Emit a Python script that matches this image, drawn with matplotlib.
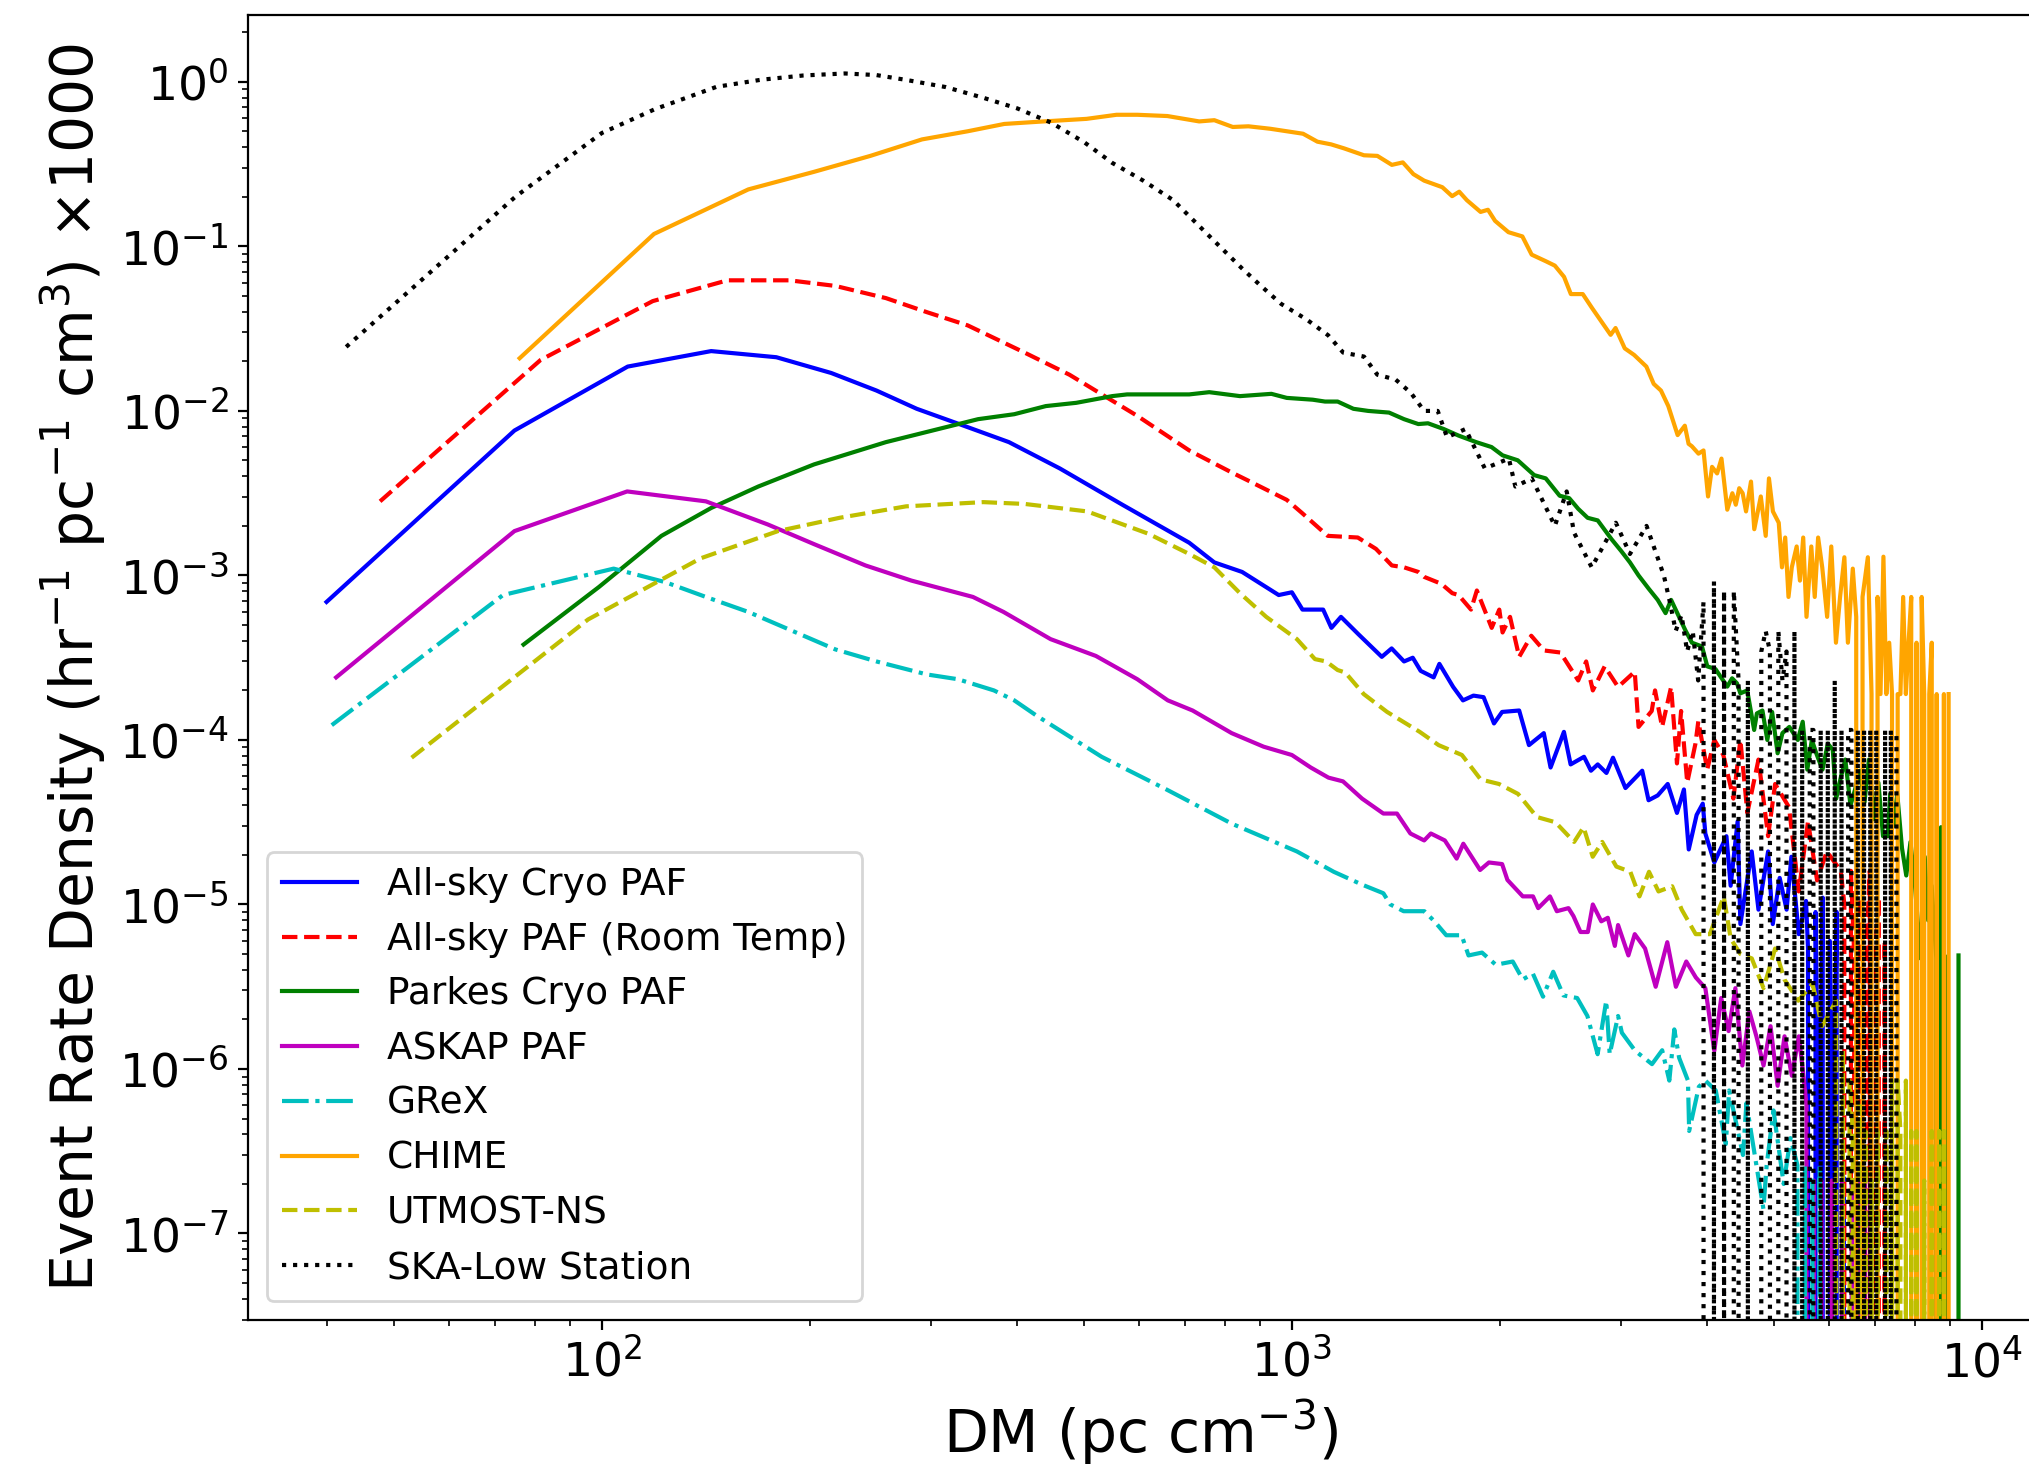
import numpy as np
import matplotlib
matplotlib.use("Agg")
import matplotlib.pyplot as plt

# (DM [pc cm^-3], event rate density x1000) along the smooth part of each curve.
# Tails are sampled on a 70 pc cm^-3 grid; zero bins drop off the log axis.
TAIL_STEP = 70

allsky_cryo = [
    (39.9, 6.9e-4), (74.7, 7.6e-3), (109, 0.0186), (144, 0.0231), (179, 0.0212),
    (215, 0.017), (250, 0.0133), (286, 0.0103), (330, 8.3e-3), (389, 6.46e-3),
    (461, 4.47e-3), (568, 2.69e-3), (710, 1.58e-3), (772, 1.2e-3), (847, 1.05e-3),
    (957, 7.6e-4), (1000, 7.9e-4), (1036, 6.2e-4), (1110, 6.2e-4), (1141, 4.8e-4),
    (1178, 5.6e-4), (1248, 4.4e-4), (1350, 3.2e-4), (1395, 3.6e-4), (1454, 3.0e-4),
    (1497, 3.16e-4), (1537, 2.63e-4), (1605, 2.4e-4), (1636, 2.9e-4), (1713, 2.1e-4),
    (1770, 1.74e-4), (1833, 1.86e-4), (1896, 1.82e-4), (1963, 1.26e-4), (2017, 1.48e-4),
    (2135, 1.51e-4), (2206, 9.3e-5), (2318, 1.1e-4), (2371, 6.8e-5), (2479, 1.12e-4),
    (2535, 7.1e-5), (2651, 7.9e-5), (2713, 6.5e-5), (2775, 7.1e-5), (2857, 6.3e-5),
    (2920, 7.8e-5), (3044, 5.1e-5), (3219, 6.5e-5), (3288, 4.3e-5), (3390, 4.6e-5),
    (3505, 5.4e-5), (3615, 3.6e-5), (3700, 5.0e-5), (3760, 2.16e-5), (3860, 3.5e-5),
    (3940, 4.1e-5), (3974, 2.7e-5), (4095, 1.8e-5), (4264, 2.6e-5), (4324, 1.3e-5),
    (4426, 3.2e-5), (4467, 7.6e-6), (4639, 2.1e-5), (4745, 9.3e-6), (4900, 2.1e-5),
    (4977, 7.6e-6), (5093, 1.45e-5), (5212, 9.3e-6), (5296, 1.95e-5), (5428, 6.6e-6),
    (5561, 1.05e-5), (5598, 5.4e-6),
]
allsky_cryo_tail_start = 5670
allsky_cryo_tail = [0, 9e-6, 2.2e-7, 1.1e-5, 0, 6e-6, 2.2e-7, 9e-6, 0, 2.2e-7, 0]

allsky_room = [
    (47.7, 2.82e-3), (81.5, 0.0204), (118.5, 0.0465), (152, 0.0622), (187, 0.0622),
    (218, 0.0575), (258, 0.0485), (296, 0.0398), (339, 0.0331), (410, 0.0226),
    (476, 0.0166), (597, 9.33e-3), (710, 5.75e-3), (814, 4.27e-3), (870, 3.72e-3),
    (983, 2.88e-3), (1034, 2.4e-3), (1127, 1.74e-3), (1246, 1.70e-3), (1324, 1.45e-3),
    (1396, 1.15e-3), (1454, 1.12e-3), (1525, 1.05e-3), (1555, 9.8e-4), (1646, 8.9e-4),
    (1708, 7.8e-4), (1744, 7.6e-4), (1818, 6.2e-4), (1854, 8.1e-4), (1948, 4.8e-4),
    (1998, 6.2e-4), (2020, 4.5e-4), (2071, 5.6e-4), (2135, 3.2e-4), (2223, 4.3e-4),
    (2319, 3.5e-4), (2450, 3.4e-4), (2600, 2.3e-4), (2670, 3.0e-4), (2730, 2.0e-4),
    (2840, 2.8e-4), (2970, 2.1e-4), (3140, 2.6e-4), (3180, 1.2e-4), (3323, 1.5e-4),
    (3360, 2.0e-4), (3440, 1.2e-4), (3545, 2.1e-4), (3615, 7.2e-5), (3665, 1.5e-4),
    (3741, 5.5e-5), (3845, 9.5e-5), (3882, 1.3e-4), (3999, 6.6e-5), (4095, 1.0e-4),
    (4220, 8.1e-5), (4364, 4.4e-5), (4467, 1.0e-4), (4572, 3.6e-5), (4745, 7.6e-5),
    (4900, 2.6e-5), (5016, 5.4e-5), (5254, 3.9e-5), (5428, 1.2e-5), (5598, 3.2e-5),
    (5770, 1.4e-5), (5960, 2.1e-5), (6245, 1.6e-5),
]
allsky_room_tail_start = 6320
allsky_room_tail = [1.0e-5, 0, 1.6e-5, 5e-6, 0, 1.1e-5, 0, 6e-6, 1.6e-5, 0,
                    6e-6, 1.1e-5, 0, 6e-6, 0]

parkes_cryo = [
    (77, 3.8e-4), (99, 8.5e-4), (122, 1.74e-3), (144, 2.57e-3), (168.5, 3.47e-3),
    (203, 4.73e-3), (258, 6.46e-3), (301, 7.59e-3), (351, 8.91e-3), (396, 9.55e-3),
    (440, 0.0107), (487, 0.0112), (549, 0.0123), (577, 0.0126), (640, 0.0126),
    (710, 0.0126), (759, 0.0130), (841, 0.0123), (934, 0.0127), (983, 0.0120),
    (1072, 0.0117), (1117, 0.0114), (1165, 0.0114), (1228, 0.0103), (1290, 0.0100),
    (1383, 0.00977), (1454, 0.00891), (1525, 0.00832), (1575, 0.00841), (1660, 0.00776),
    (1744, 0.00708), (1850, 0.00646), (1947, 0.00603), (2020, 0.00537), (2125, 0.00501),
    (2245, 0.00407), (2333, 0.00389), (2444, 0.00305), (2523, 0.00295), (2600, 0.00254),
    (2683, 0.00224), (2775, 0.00216), (2906, 0.00166), (3000, 0.00141), (3090, 0.0012),
    (3180, 0.001), (3290, 8.3e-4), (3390, 7.1e-4), (3480, 5.9e-4), (3545, 7.1e-4),
    (3715, 4.67e-4), (3800, 3.9e-4), (3930, 3.7e-4), (4000, 2.8e-4), (4110, 2.7e-4),
    (4276, 2.11e-4), (4345, 2.37e-4), (4416, 2.21e-4), (4467, 1.92e-4), (4570, 2.0e-4),
    (4677, 1.15e-4), (4720, 1.45e-4), (4808, 1.51e-4), (4887, 1.0e-4), (4966, 1.48e-4),
    (5058, 8.3e-5), (5140, 1.1e-4), (5260, 1.2e-4), (5410, 1.0e-4), (5500, 1.29e-4),
    (5585, 6.6e-5), (5670, 1.0e-4), (5754, 8.3e-5), (5875, 6.6e-5), (5980, 9.5e-5),
    (6080, 8.7e-5), (6150, 4.4e-5), (6250, 6.0e-5), (6340, 7.6e-5), (6450, 4.0e-5),
    (6550, 5.0e-5), (6650, 6.5e-5), (6760, 4.2e-5), (6860, 7.6e-5), (6970, 3.3e-5),
    (7080, 5.5e-5), (7190, 2.6e-5), (7305, 2.6e-5), (7365, 4.7e-5), (7450, 3.0e-5),
    (7540, 4.7e-5), (7660, 2.2e-5), (7770, 1.5e-5), (7880, 2.4e-5), (8000, 1.3e-5),
    (8150, 4.7e-6), (8265, 1.95e-5), (8360, 8e-6), (8455, 1.3e-5), (8590, 4.7e-6),
    (8660, 0), (8725, 2.95e-5), (8790, 0), (8830, 4.9e-6), (8900, 0), (9220, 0),
    (9250, 4.9e-6),
]

askap = [
    (41.2, 2.4e-4), (74.7, 1.86e-3), (108.8, 3.24e-3), (141.5, 2.82e-3), (174, 2.04e-3),
    (203, 1.55e-3), (241, 1.15e-3), (281, 9.3e-4), (345, 7.4e-4), (382, 6.0e-4),
    (447, 4.1e-4), (520, 3.24e-4), (597, 2.34e-4), (661, 1.74e-4), (718, 1.51e-4),
    (818, 1.1e-4), (910, 9.1e-5), (1000, 8.1e-5), (1065, 6.8e-5), (1130, 5.9e-5),
    (1186, 5.6e-5), (1264, 4.4e-5), (1357, 3.57e-5), (1420, 3.57e-5), (1485, 2.7e-5),
    (1555, 2.45e-5), (1590, 2.7e-5), (1666, 2.45e-5), (1733, 1.9e-5), (1772, 2.34e-5),
    (1874, 1.62e-5), (1930, 1.8e-5), (2017, 1.76e-5), (2053, 1.41e-5), (2161, 1.12e-5),
    (2236, 1.12e-5), (2275, 9.5e-6), (2366, 1.12e-5), (2421, 9.1e-6), (2517, 9.5e-6),
    (2559, 8.5e-6), (2620, 6.8e-6), (2685, 6.8e-6), (2730, 1.0e-5), (2808, 7.9e-6),
    (2870, 8.3e-6), (2938, 5.6e-6), (2970, 7.5e-6), (3074, 4.9e-6), (3140, 6.6e-6),
    (3250, 5.4e-6), (3367, 3.16e-6), (3500, 5.9e-6), (3602, 3.16e-6), (3729, 4.5e-6),
    (3850, 3.6e-6), (3974, 3.1e-6), (4095, 1.29e-6), (4190, 2.7e-6), (4295, 1.7e-6),
    (4393, 3.1e-6), (4496, 1.05e-6), (4603, 2.24e-6), (4712, 1.58e-6), (4826, 1.05e-6),
    (4940, 1.82e-6), (5058, 7.9e-7), (5176, 1.58e-6), (5304, 9.1e-7), (5429, 1.58e-6),
]
askap_tail_start = 5500
askap_tail = [1.0e-6, 6e-7, 0, 2.1e-7, 0, 2.1e-7, 0, 0, 2.1e-7, 0, 0, 2.1e-7,
              0, 0, 2.1e-7, 0, 2.1e-7, 0, 2.1e-7, 0, 2.1e-7, 0]

grex = [
    (40.6, 1.23e-4), (71.9, 7.6e-4), (104, 1.1e-3), (123.6, 9.1e-4), (141.5, 7.4e-4),
    (163, 6.0e-4), (218, 3.55e-4), (250, 3.0e-4), (296, 2.5e-4), (328, 2.34e-4),
    (370, 2.0e-4), (396, 1.74e-4), (426, 1.41e-4), (530, 7.9e-5), (658, 5.0e-5),
    (818, 3.1e-5), (1017, 2.1e-5), (1150, 1.58e-5), (1264, 1.32e-5), (1357, 1.17e-5),
    (1389, 1.0e-5), (1452, 9.1e-6), (1556, 9.1e-6), (1609, 7.9e-6), (1674, 6.5e-6),
    (1762, 6.5e-6), (1803, 4.9e-6), (1886, 5.1e-6), (1975, 4.3e-6), (2090, 4.5e-6),
    (2161, 3.5e-6), (2235, 3.8e-6), (2312, 2.75e-6), (2392, 3.9e-6), (2475, 2.8e-6),
    (2591, 2.7e-6), (2681, 2.1e-6), (2774, 1.23e-6), (2855, 2.6e-6), (2888, 1.23e-6),
    (2970, 2.1e-6), (3008, 1.66e-6), (3144, 1.29e-6), (3326, 1.07e-6), (3441, 1.3e-6),
    (3524, 8.5e-7), (3583, 1.74e-6), (3641, 1.17e-6), (3750, 8.5e-7), (3765, 4.2e-7),
    (3889, 7.8e-7), (3975, 8.5e-7), (4115, 7.4e-7), (4255, 3.5e-7), (4303, 7.4e-7),
    (4506, 3.0e-7), (4558, 6.2e-7), (4824, 1.41e-7), (4876, 2.6e-7), (4989, 5.6e-7),
    (5161, 2.0e-7), (5280, 3.8e-7), (5404, 2.6e-7),
]
grex_tail_start = 5470
grex_tail = [0, 2.6e-7, 0, 2.1e-7, 0, 2.6e-7, 0]

chime = [
    (76, 0.0209), (119, 0.119), (163, 0.222), (203, 0.284), (245, 0.355),
    (291, 0.447), (339, 0.501), (383, 0.555), (431, 0.573), (504, 0.596),
    (557, 0.631), (597, 0.631), (660, 0.62), (734, 0.575), (772, 0.585),
    (821, 0.532), (865, 0.537), (930, 0.519), (983, 0.501), (1038, 0.484),
    (1089, 0.433), (1140, 0.417), (1191, 0.394), (1230, 0.376), (1272, 0.358),
    (1330, 0.355), (1396, 0.313), (1448, 0.324), (1500, 0.275), (1555, 0.251),
    (1652, 0.229), (1707, 0.202), (1748, 0.215), (1793, 0.191), (1877, 0.162),
    (1924, 0.167), (1970, 0.143), (2060, 0.122), (2158, 0.115), (2226, 0.0891),
    (2333, 0.0813), (2405, 0.0764), (2480, 0.0653), (2537, 0.0513), (2640, 0.0513),
    (2722, 0.0423), (2808, 0.035), (2897, 0.029), (2945, 0.0319), (3037, 0.024),
    (3133, 0.0219), (3264, 0.0186), (3345, 0.0146), (3427, 0.0133), (3512, 0.0107),
    (3623, 0.00713), (3711, 0.00813), (3758, 0.00631), (3799, 0.0061), (3884, 0.0055),
    (3950, 0.00575), (4010, 0.00302), (4064, 0.00457), (4133, 0.00417), (4194, 0.00513),
    (4276, 0.00251), (4349, 0.00316), (4399, 0.00269), (4450, 0.00339), (4501, 0.00316),
    (4552, 0.00245), (4628, 0.00372), (4679, 0.00191), (4782, 0.00302), (4861, 0.00174),
    (4914, 0.00389), (4979, 0.00245), (5077, 0.00209), (5132, 0.00112), (5188, 0.0017),
    (5245, 7.4e-4), (5303, 0.00112), (5390, 0.0015), (5449, 9.3e-4), (5509, 0.0017),
    (5570, 5.6e-4), (5660, 0.0015), (5725, 7.4e-4), (5790, 0.0017), (5870, 0.00112),
    (5967, 5.6e-4), (6050, 0.0015), (6145, 3.9e-4), (6230, 7.4e-4), (6320, 0.00129),
    (6395, 3.9e-4), (6500, 0.0011), (6575, 5.6e-4), (6640, 0), (6715, 7.4e-4),
    (6835, 0.00129),
]
chime_tail_start = 6920
chime_tail = [1.9e-4, 0, 7.4e-4, 1.9e-4, 1.3e-3, 1.9e-4, 3.9e-4, 1.9e-4, 0, 1.9e-4,
              1.9e-4, 7.4e-4, 1.9e-4, 3.9e-4, 7.4e-4, 0, 3.9e-4, 0, 7.4e-4, 1.9e-4,
              0, 1.9e-4, 3.9e-4, 0, 1.9e-4, 0, 0, 1.9e-4, 0, 1.9e-4]

utmost = [
    (53, 7.8e-5), (95.5, 5.4e-4), (139, 1.27e-3), (180, 1.86e-3), (221, 2.24e-3),
    (276, 2.63e-3), (357, 2.79e-3), (410, 2.72e-3), (505, 2.45e-3), (620, 1.79e-3),
    (710, 1.35e-3), (772, 1.12e-3), (841, 7.8e-4), (918, 5.6e-4), (1017, 4.1e-4),
    (1080, 3.1e-4), (1121, 3.0e-4), (1165, 2.66e-4), (1195, 2.57e-4), (1271, 1.9e-4),
    (1374, 1.48e-4), (1532, 1.12e-4), (1632, 9.3e-5), (1764, 8.1e-5), (1878, 5.75e-5),
    (1996, 5.4e-5), (2127, 4.7e-5), (2265, 3.4e-5), (2410, 3.16e-5), (2565, 2.4e-5),
    (2647, 2.95e-5), (2729, 1.95e-5), (2817, 2.4e-5), (2953, 1.7e-5), (3094, 1.58e-5),
    (3190, 1.12e-5), (3293, 1.58e-5), (3399, 1.2e-5), (3558, 1.29e-5), (3673, 9.3e-6),
    (3848, 6.6e-6), (4034, 6.6e-6), (4226, 1.12e-5), (4325, 6.2e-6), (4467, 5.0e-6),
    (4640, 4.7e-6), (4826, 3.1e-6), (5016, 5.4e-6), (5174, 3.5e-6), (5420, 2.6e-6),
    (5682, 3.3e-6), (5866, 1.82e-6), (6150, 2.6e-6),
]
utmost_tail_start = 6220
utmost_tail = [0, 1.3e-6, 0, 8.5e-7, 4.2e-7, 0, 6e-7, 0, 4.2e-7, 0,
               2.1e-7, 0, 4.2e-7, 0, 0, 4.2e-7, 0, 8.5e-7, 0, 8.5e-7,
               4.2e-7, 0, 8.5e-7, 0, 4.2e-7, 0, 4.2e-7, 0, 0, 2.1e-7,
               0, 0, 4.2e-7, 0, 0, 4.2e-7, 0, 4.2e-7, 0]

ska_low = [
    (42.6, 0.0245), (75, 0.201), (100, 0.489), (119.5, 0.684), (146.6, 0.933),
    (170, 1.03), (196, 1.094), (225, 1.125), (250, 1.10), (276, 1.028),
    (315, 0.93), (358, 0.798), (400, 0.69), (448, 0.565), (500, 0.43),
    (549, 0.322), (610, 0.25), (673, 0.191), (760, 0.115), (845, 0.0741),
    (900, 0.058), (965, 0.0447), (1050, 0.036), (1129, 0.0288), (1187, 0.0226),
    (1272, 0.0214), (1330, 0.0166), (1414, 0.0155), (1487, 0.0129), (1555, 0.0100),
    (1627, 0.0100), (1678, 0.00692), (1785, 0.00776), (1904, 0.00447), (2063, 0.00513),
    (2108, 0.00347), (2227, 0.00389), (2405, 0.00200), (2502, 0.00324), (2564, 0.00182),
    (2720, 0.00112), (2948, 0.00209), (3090, 0.00135), (3266, 0.00200), (3460, 0.00100),
]
ska_low_tail_start = 3530
ska_low_tail = [6.9e-4, 4.6e-4, 5.75e-4, 3.45e-4, 4.6e-4, 2.3e-4, 6.9e-4, 0, 9.2e-4, 0,
                8.05e-4, 0, 8.05e-4, 2.3e-4, 0, 2.3e-4, 0, 0, 3.45e-4, 4.6e-4,
                3.45e-4, 0, 4.6e-4, 2.3e-4, 3.45e-4, 0, 4.6e-4, 0, 1.15e-4, 0,
                1.15e-4, 1.15e-4, 0, 1.15e-4, 0, 1.15e-4, 0, 2.3e-4, 0, 1.15e-4,
                0, 1.15e-4, 1.15e-4, 0, 1.15e-4, 0, 1.15e-4, 0, 1.15e-4, 0,
                1.15e-4, 0, 0, 1.15e-4, 0, 1.15e-4, 0, 1.15e-4]


def curve(points, tail_start=None, tail=()):
    dm = [p[0] for p in points]
    rate = [p[1] for p in points]
    dm += [tail_start + TAIL_STEP * k for k in range(len(tail))]
    rate += list(tail)
    return np.array(dm, dtype=float), np.array(rate, dtype=float)


W, H, DPI = 2029, 1468, 200
fig = plt.figure(figsize=(W / DPI, H / DPI), dpi=DPI)
ax = fig.add_axes([248 / W, 1 - 1320 / H, (2034 - 248) / W, (1320 - 15) / H])

ax.plot(*curve(allsky_cryo, allsky_cryo_tail_start, allsky_cryo_tail), 'b-',
        label='All-sky Cryo PAF')
ax.plot(*curve(allsky_room, allsky_room_tail_start, allsky_room_tail), 'r--',
        label='All-sky PAF (Room Temp)')
ax.plot(*curve(parkes_cryo), 'g-', label='Parkes Cryo PAF')
ax.plot(*curve(askap, askap_tail_start, askap_tail), 'm-', label='ASKAP PAF')
ax.plot(*curve(grex, grex_tail_start, grex_tail), 'c-.', label='GReX')
ax.plot(*curve(chime, chime_tail_start, chime_tail), '-', color='orange',
        label='CHIME')
ax.plot(*curve(utmost, utmost_tail_start, utmost_tail), 'y--', label='UTMOST-NS')
ax.plot(*curve(ska_low, ska_low_tail_start, ska_low_tail), 'k:',
        label='SKA-Low Station')

ax.set_xscale('log')
ax.set_yscale('log')
ax.set_xlim(30.7, 11900)
ax.set_ylim(2.98e-8, 2.55)

ax.set_xlabel(r'DM (pc cm$^{-3}$)', fontsize=21)
ax.set_ylabel(r'Event Rate Density (hr$^{-1}$ pc$^{-1}$ cm$^3$) $\times$1000',
              fontsize=21)
ax.tick_params(axis='both', which='major', labelsize=17)
ax.legend(loc='lower left', fontsize=13.5)

fig.savefig('out.png', dpi=DPI)
